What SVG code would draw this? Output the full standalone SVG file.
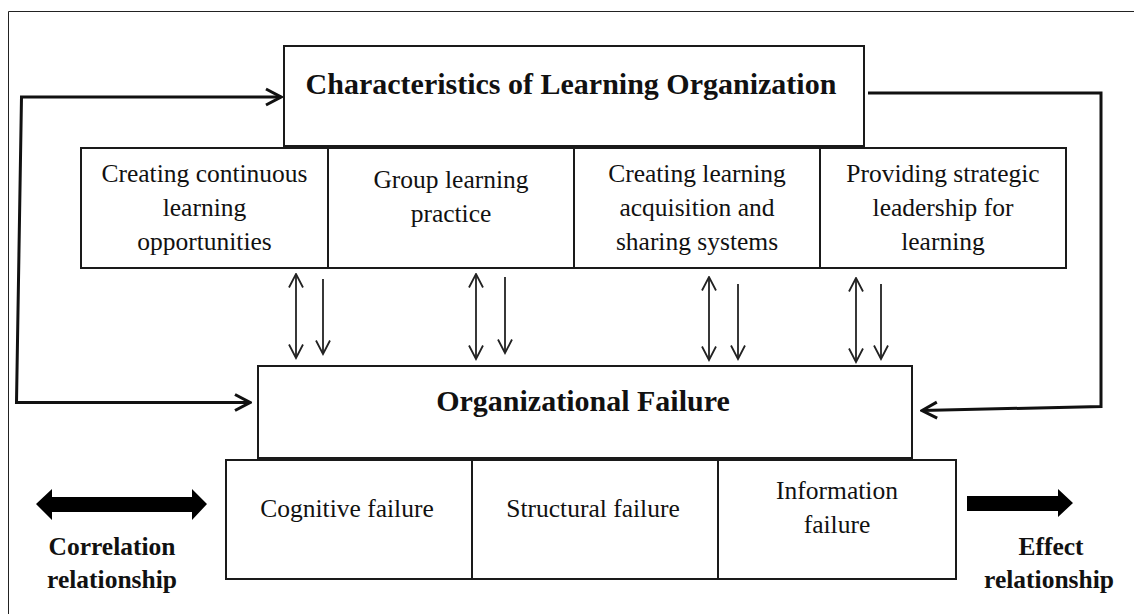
<svg xmlns="http://www.w3.org/2000/svg" width="1134" height="614" viewBox="0 0 1134 614">
<style>
.box{fill:#fff;stroke:#1a1a1a;stroke-width:2}
.t{font-family:"Liberation Serif","Times New Roman",serif;font-size:25.5px;fill:#111;text-anchor:middle}
.tb{font-family:"Liberation Serif","Times New Roman",serif;font-size:30px;font-weight:bold;fill:#111;text-anchor:middle}
.lb{font-family:"Liberation Serif","Times New Roman",serif;font-size:25.5px;font-weight:bold;fill:#111;text-anchor:middle}
.big{fill:none;stroke:#111;stroke-width:3}
.sm{fill:none;stroke:#222;stroke-width:1.8}
</style>
<defs>
<marker id="ah" markerUnits="userSpaceOnUse" viewBox="0 0 18 20" markerWidth="18" markerHeight="20" refX="16" refY="10" orient="auto-start-reverse">
<path d="M1,2 L16,10 L1,18" fill="none" stroke="#111" stroke-width="3"/>
</marker>
<marker id="as" markerUnits="userSpaceOnUse" viewBox="0 0 16 18" markerWidth="16" markerHeight="18" refX="14.5" refY="9" orient="auto-start-reverse">
<path d="M1,2 L14.5,9 L1,16" fill="none" stroke="#222" stroke-width="1.8"/>
</marker>
</defs>
<rect width="1134" height="614" fill="#fff"/>
<path d="M8.5,614 V11.5 H1134" fill="none" stroke="#222" stroke-width="1"/>

<g id="characteristics">
<rect class="box" x="284" y="46" width="580" height="100"/>
<text class="tb" x="571" y="94">Characteristics of Learning Organization</text>
</g>
<g id="c1">
<rect class="box" x="81" y="148" width="247" height="120"/>
<text class="t" x="204.5" y="182">Creating continuous</text>
<text class="t" x="204.5" y="216">learning</text>
<text class="t" x="204.5" y="250">opportunities</text>
</g>
<g id="c2">
<rect class="box" x="328" y="148" width="246" height="120"/>
<text class="t" x="451" y="188">Group learning</text>
<text class="t" x="451" y="222">practice</text>
</g>
<g id="c3">
<rect class="box" x="574" y="148" width="246" height="120"/>
<text class="t" x="697" y="182">Creating learning</text>
<text class="t" x="697" y="216">acquisition and</text>
<text class="t" x="697" y="250">sharing systems</text>
</g>
<g id="c4">
<rect class="box" x="820" y="148" width="246" height="120"/>
<text class="t" x="943" y="182">Providing strategic</text>
<text class="t" x="943" y="216">leadership for</text>
<text class="t" x="943" y="250">learning</text>
</g>

<g id="failure">
<rect class="box" x="258" y="366" width="654" height="92"/>
<text class="tb" x="583" y="411">Organizational Failure</text>
</g>
<g id="f1">
<rect class="box" x="226" y="460" width="246" height="119"/>
<text class="t" x="347" y="517">Cognitive failure</text>
</g>
<g id="f2">
<rect class="box" x="472" y="460" width="246" height="119"/>
<text class="t" x="593" y="517">Structural failure</text>
</g>
<g id="f3">
<rect class="box" x="718" y="460" width="238" height="119"/>
<text class="t" x="837" y="499">Information</text>
<text class="t" x="837" y="533">failure</text>
</g>

<g id="connectors">
<polyline class="big" points="250,402.5 16.5,402.5 21.5,97 281,97" marker-start="url(#ah)" marker-end="url(#ah)"/>
<polyline class="big" points="868,93 1101,93 1101,406.5 922,410.5" marker-end="url(#ah)"/>
<line class="sm" x1="296" y1="274" x2="296" y2="358" marker-start="url(#as)" marker-end="url(#as)"/>
<line class="sm" x1="323" y1="279" x2="323" y2="354" marker-end="url(#as)"/>
<line class="sm" x1="476" y1="274" x2="476" y2="359" marker-start="url(#as)" marker-end="url(#as)"/>
<line class="sm" x1="505" y1="277" x2="505" y2="353" marker-end="url(#as)"/>
<line class="sm" x1="709" y1="277" x2="709" y2="360" marker-start="url(#as)" marker-end="url(#as)"/>
<line class="sm" x1="738" y1="284" x2="738" y2="359" marker-end="url(#as)"/>
<line class="sm" x1="856" y1="278" x2="856" y2="362" marker-start="url(#as)" marker-end="url(#as)"/>
<line class="sm" x1="881" y1="284" x2="881" y2="359" marker-end="url(#as)"/>
</g>

<g id="legend-correlation">
<polygon points="36,504 52,489 52,497 192,497 192,489 207,504 192,520 192,512 52,512 52,520" fill="#000"/>
<text class="lb" x="112" y="555">Correlation</text>
<text class="lb" x="112" y="588">relationship</text>
</g>
<g id="legend-effect">
<polygon points="967,496 1058,496 1058,489 1073,503 1058,517 1058,511 967,511" fill="#000"/>
<text class="lb" x="1051" y="555">Effect</text>
<text class="lb" x="1049" y="588">relationship</text>
</g>
</svg>
